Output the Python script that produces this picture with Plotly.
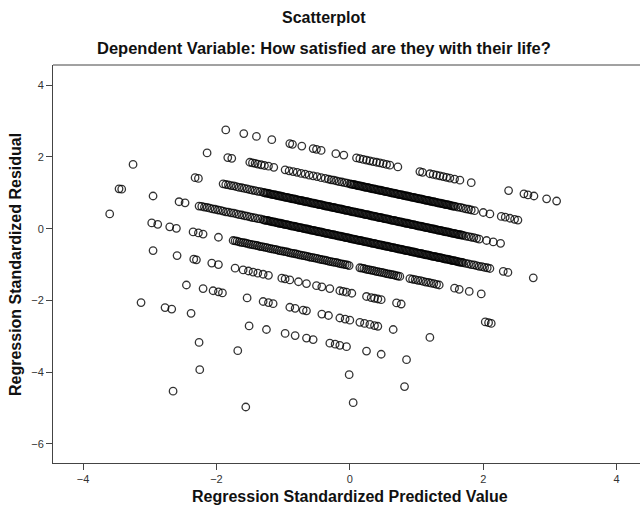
import plotly.graph_objects as go

# Standardized predicted value / standardized residual pairs, grouped by the
# life-satisfaction rating that produced each diagonal band of residuals.
pred_r10 = [-1.86, -1.59, -1.40, -1.17, -0.90, -0.86, -0.72, -0.55, -0.50, -0.43, -0.21, -0.09,
            0.10, 0.15, 0.20, 0.25, 0.30, 0.35, 0.40, 0.45, 0.50, 0.55, 0.60, 0.72, 1.05, 1.09,
            1.20, 1.25, 1.30, 1.35, 1.40, 1.45, 1.50, 1.57, 1.65, 1.82, 2.38, 2.61, 2.67, 2.76,
            2.95, 3.10]
resid_r10 = [2.75, 2.65, 2.57, 2.48, 2.37, 2.35, 2.30, 2.23, 2.21, 2.18, 2.09, 2.05,
             1.97, 1.95, 1.93, 1.91, 1.89, 1.87, 1.85, 1.83, 1.81, 1.79, 1.77, 1.72, 1.59, 1.57,
             1.53, 1.51, 1.49, 1.47, 1.45, 1.43, 1.41, 1.38, 1.35, 1.28, 1.06, 0.97, 0.94, 0.91,
             0.83, 0.77]

pred_r9 = [-2.14, -1.83, -1.77, -1.50, -1.46, -1.42, -1.38, -1.33, -1.28, -1.22, -1.14,
           -0.97, -0.91, -0.85, -0.79, -0.73, -0.67, -0.61, -0.55, -0.49, -0.43, -0.37,
           -0.32, -0.28, -0.24, -0.20, -0.16, -0.12, -0.08, -0.04,
           0.00, 0.02, 0.04, 0.06, 0.08, 0.10, 0.12, 0.14, 0.16, 0.18,
           0.20, 0.22, 0.24, 0.26, 0.28, 0.30, 0.32, 0.34, 0.36, 0.38,
           0.40, 0.42, 0.44, 0.46, 0.48, 0.50, 0.52, 0.54, 0.56, 0.58,
           0.60, 0.62, 0.64, 0.66, 0.68, 0.70, 0.72, 0.74, 0.76, 0.78,
           0.80, 0.82, 0.84, 0.86, 0.88, 0.90, 0.92, 0.94, 0.96, 0.98,
           1.00, 1.02, 1.04, 1.06, 1.08, 1.10, 1.12, 1.14, 1.16, 1.18,
           1.20, 1.22, 1.24, 1.26, 1.28, 1.30, 1.32, 1.34, 1.36, 1.38,
           1.40, 1.42, 1.44, 1.46, 1.48, 1.50, 1.52, 1.54, 1.56, 1.58,
           1.62, 1.66, 1.70, 1.74, 1.78, 1.82, 1.87, 2.00, 2.10, 2.27, 2.33, 2.40, 2.47, 2.52]
resid_r9 = [2.11, 1.98, 1.96, 1.85, 1.83, 1.82, 1.80, 1.78, 1.76, 1.74, 1.71,
            1.64, 1.61, 1.59, 1.57, 1.54, 1.52, 1.49, 1.47, 1.45, 1.42, 1.40,
            1.38, 1.36, 1.35, 1.33, 1.31, 1.30, 1.28, 1.27,
            1.25, 1.24, 1.23, 1.23, 1.22, 1.21, 1.20, 1.19, 1.19, 1.18,
            1.17, 1.16, 1.15, 1.15, 1.14, 1.13, 1.12, 1.11, 1.11, 1.10,
            1.09, 1.08, 1.07, 1.07, 1.06, 1.05, 1.04, 1.03, 1.03, 1.02,
            1.01, 1.00, 0.99, 0.99, 0.98, 0.97, 0.96, 0.95, 0.95, 0.94,
            0.93, 0.92, 0.91, 0.91, 0.90, 0.89, 0.88, 0.87, 0.87, 0.86,
            0.85, 0.84, 0.83, 0.83, 0.82, 0.81, 0.80, 0.79, 0.79, 0.78,
            0.77, 0.76, 0.75, 0.75, 0.74, 0.73, 0.72, 0.71, 0.71, 0.70,
            0.69, 0.68, 0.67, 0.67, 0.66, 0.65, 0.64, 0.63, 0.63, 0.62,
            0.60, 0.59, 0.57, 0.55, 0.54, 0.52, 0.50, 0.45, 0.41, 0.34, 0.32, 0.29, 0.26, 0.24]

pred_r8 = [-3.25, -2.32, -2.27,
           -1.90, -1.86, -1.82, -1.78, -1.74, -1.70, -1.66, -1.62, -1.58, -1.54, -1.50, -1.46,
           -1.42, -1.38, -1.34,
           -1.30, -1.28, -1.26, -1.24, -1.22, -1.20, -1.18, -1.16, -1.14, -1.12,
           -1.10, -1.08, -1.06, -1.04, -1.02, -1.00, -0.98, -0.96, -0.94, -0.92,
           -0.90, -0.88, -0.86, -0.84, -0.82, -0.80, -0.78, -0.76, -0.74, -0.72,
           -0.70, -0.68, -0.66, -0.64, -0.62, -0.60, -0.58, -0.56, -0.54, -0.52,
           -0.50, -0.48, -0.46, -0.44, -0.42, -0.40, -0.38, -0.36, -0.34, -0.32,
           -0.30, -0.28, -0.26, -0.24, -0.22, -0.20, -0.18, -0.16, -0.14, -0.12,
           -0.10, -0.08, -0.06, -0.04, -0.02, 0.00, 0.02, 0.04, 0.06, 0.08,
           0.10, 0.12, 0.14, 0.16, 0.18, 0.20, 0.22, 0.24, 0.26, 0.28,
           0.30, 0.32, 0.34, 0.36, 0.38, 0.40, 0.42, 0.44, 0.46, 0.48,
           0.50, 0.52, 0.54, 0.56, 0.58, 0.60, 0.62, 0.64, 0.66, 0.68,
           0.70, 0.72, 0.74, 0.76, 0.78, 0.80, 0.82, 0.84, 0.86, 0.88,
           0.90, 0.92, 0.94, 0.96, 0.98, 1.00, 1.02, 1.04, 1.06, 1.08,
           1.10, 1.12, 1.14, 1.16, 1.18, 1.20, 1.22, 1.24, 1.26, 1.28,
           1.30, 1.32, 1.34, 1.36, 1.38, 1.40, 1.42, 1.44, 1.46, 1.48,
           1.50, 1.52, 1.54, 1.56, 1.58, 1.60, 1.62, 1.64, 1.66, 1.68,
           1.70, 1.74, 1.78, 1.82, 1.86, 1.90, 1.94, 2.05, 2.15, 2.26]
resid_r8 = [1.79, 1.42, 1.40,
            1.25, 1.23, 1.22, 1.20, 1.19, 1.17, 1.15, 1.14, 1.12, 1.11, 1.09, 1.07,
            1.06, 1.04, 1.03,
            1.01, 1.00, 0.99, 0.99, 0.98, 0.97, 0.96, 0.95, 0.95, 0.94,
            0.93, 0.92, 0.91, 0.91, 0.90, 0.89, 0.88, 0.87, 0.87, 0.86,
            0.85, 0.84, 0.83, 0.83, 0.82, 0.81, 0.80, 0.79, 0.79, 0.78,
            0.77, 0.76, 0.75, 0.75, 0.74, 0.73, 0.72, 0.71, 0.71, 0.70,
            0.69, 0.68, 0.67, 0.67, 0.66, 0.65, 0.64, 0.63, 0.63, 0.62,
            0.61, 0.60, 0.59, 0.59, 0.58, 0.57, 0.56, 0.55, 0.55, 0.54,
            0.53, 0.52, 0.51, 0.51, 0.50, 0.49, 0.48, 0.47, 0.47, 0.46,
            0.45, 0.44, 0.43, 0.43, 0.42, 0.41, 0.40, 0.39, 0.39, 0.38,
            0.37, 0.36, 0.35, 0.35, 0.34, 0.33, 0.32, 0.31, 0.31, 0.30,
            0.29, 0.28, 0.27, 0.27, 0.26, 0.25, 0.24, 0.23, 0.23, 0.22,
            0.21, 0.20, 0.19, 0.19, 0.18, 0.17, 0.16, 0.15, 0.15, 0.14,
            0.13, 0.12, 0.11, 0.11, 0.10, 0.09, 0.08, 0.07, 0.07, 0.06,
            0.05, 0.04, 0.03, 0.03, 0.02, 0.01, 0.00, -0.01, -0.01, -0.02,
            -0.03, -0.04, -0.05, -0.05, -0.06, -0.07, -0.08, -0.09, -0.09, -0.10,
            -0.11, -0.12, -0.13, -0.13, -0.14, -0.15, -0.16, -0.17, -0.17, -0.18,
            -0.19, -0.21, -0.22, -0.24, -0.25, -0.27, -0.29, -0.33, -0.37, -0.41]

pred_r7 = [-3.46, -3.42, -2.95, -2.56, -2.47,
           -2.26, -2.22, -2.18, -2.14, -2.10, -2.06, -2.02, -1.98, -1.94,
           -1.90, -1.86, -1.82, -1.78, -1.74, -1.70, -1.66, -1.62, -1.58, -1.54, -1.50, -1.46,
           -1.42, -1.38, -1.34,
           -1.30, -1.28, -1.26, -1.24, -1.22, -1.20, -1.18, -1.16, -1.14, -1.12,
           -1.10, -1.08, -1.06, -1.04, -1.02, -1.00, -0.98, -0.96, -0.94, -0.92,
           -0.90, -0.88, -0.86, -0.84, -0.82, -0.80, -0.78, -0.76, -0.74, -0.72,
           -0.70, -0.68, -0.66, -0.64, -0.62, -0.60, -0.58, -0.56, -0.54, -0.52,
           -0.50, -0.48, -0.46, -0.44, -0.42, -0.40, -0.38, -0.36, -0.34, -0.32,
           -0.30, -0.28, -0.26, -0.24, -0.22, -0.20, -0.18, -0.16, -0.14, -0.12,
           -0.10, -0.08, -0.06, -0.04, -0.02, 0.00, 0.02, 0.04, 0.06, 0.08,
           0.10, 0.12, 0.14, 0.16, 0.18, 0.20, 0.22, 0.24, 0.26, 0.28,
           0.30, 0.32, 0.34, 0.36, 0.38, 0.40, 0.42, 0.44, 0.46, 0.48,
           0.50, 0.52, 0.54, 0.56, 0.58, 0.60, 0.62, 0.64, 0.66, 0.68,
           0.70, 0.72, 0.74, 0.76, 0.78, 0.80, 0.82, 0.84, 0.86, 0.88,
           0.90, 0.92, 0.94, 0.96, 0.98, 1.00, 1.02, 1.04, 1.06, 1.08,
           1.10, 1.12, 1.14, 1.16, 1.18, 1.20, 1.22, 1.24, 1.26, 1.28,
           1.30, 1.32, 1.34, 1.36, 1.38, 1.40, 1.42, 1.44, 1.46, 1.48,
           1.50, 1.52, 1.54, 1.56, 1.58, 1.60, 1.62, 1.64, 1.66, 1.68,
           1.70, 1.74, 1.78, 1.82, 1.86, 1.90, 1.94, 1.98, 2.02, 2.06, 2.10,
           2.30, 2.37, 2.75]
resid_r7 = [1.11, 1.10, 0.91, 0.75, 0.72,
            0.63, 0.62, 0.60, 0.59, 0.57, 0.55, 0.54, 0.52, 0.51,
            0.49, 0.47, 0.46, 0.44, 0.43, 0.41, 0.39, 0.38, 0.36, 0.35, 0.33, 0.31,
            0.30, 0.28, 0.27,
            0.25, 0.24, 0.23, 0.23, 0.22, 0.21, 0.20, 0.19, 0.19, 0.18,
            0.17, 0.16, 0.15, 0.15, 0.14, 0.13, 0.12, 0.11, 0.11, 0.10,
            0.09, 0.08, 0.07, 0.07, 0.06, 0.05, 0.04, 0.03, 0.03, 0.02,
            0.01, 0.00, -0.01, -0.01, -0.02, -0.03, -0.04, -0.05, -0.05, -0.06,
            -0.07, -0.08, -0.09, -0.09, -0.10, -0.11, -0.12, -0.13, -0.13, -0.14,
            -0.15, -0.16, -0.17, -0.17, -0.18, -0.19, -0.20, -0.21, -0.21, -0.22,
            -0.23, -0.24, -0.25, -0.25, -0.26, -0.27, -0.28, -0.29, -0.29, -0.30,
            -0.31, -0.32, -0.33, -0.33, -0.34, -0.35, -0.36, -0.37, -0.37, -0.38,
            -0.39, -0.40, -0.41, -0.41, -0.42, -0.43, -0.44, -0.45, -0.45, -0.46,
            -0.47, -0.48, -0.49, -0.49, -0.50, -0.51, -0.52, -0.53, -0.53, -0.54,
            -0.55, -0.56, -0.57, -0.57, -0.58, -0.59, -0.60, -0.61, -0.61, -0.62,
            -0.63, -0.64, -0.65, -0.65, -0.66, -0.67, -0.68, -0.69, -0.69, -0.70,
            -0.71, -0.72, -0.73, -0.73, -0.74, -0.75, -0.76, -0.77, -0.77, -0.78,
            -0.79, -0.80, -0.81, -0.81, -0.82, -0.83, -0.84, -0.85, -0.85, -0.86,
            -0.87, -0.88, -0.89, -0.89, -0.90, -0.91, -0.92, -0.93, -0.93, -0.94,
            -0.95, -0.97, -0.98, -1.00, -1.01, -1.03, -1.05, -1.06, -1.08, -1.09, -1.11,
            -1.19, -1.22, -1.37]

pred_r6 = [-3.60, -2.97, -2.88, -2.70, -2.60, -2.35, -2.27, -2.20, -1.97,
           -1.75, -1.72, -1.69, -1.66, -1.63, -1.60, -1.57, -1.54, -1.51, -1.48,
           -1.45, -1.42, -1.39, -1.36, -1.33, -1.30, -1.27, -1.24, -1.21, -1.18,
           -1.15, -1.12, -1.09, -1.06, -1.03, -1.00, -0.97, -0.94, -0.91, -0.88,
           -0.85, -0.82, -0.79, -0.76, -0.73, -0.70, -0.67, -0.64, -0.61, -0.58,
           -0.55, -0.52, -0.49, -0.46, -0.43, -0.40, -0.37, -0.34, -0.31, -0.28,
           -0.25, -0.22, -0.19, -0.16, -0.13, -0.10, -0.07, -0.04, -0.01,
           0.15, 0.18, 0.21, 0.24, 0.27, 0.30, 0.33, 0.36, 0.39, 0.42, 0.45, 0.48,
           0.51, 0.54, 0.57, 0.60, 0.63, 0.66, 0.69, 0.72, 0.75,
           0.90, 0.94, 0.98, 1.02, 1.06, 1.10, 1.14, 1.18, 1.22, 1.26, 1.30, 1.34,
           1.57, 1.64, 1.79, 1.97]
resid_r6 = [0.41, 0.16, 0.12, 0.05, 0.01, -0.09, -0.12, -0.15, -0.24,
            -0.33, -0.34, -0.35, -0.37, -0.38, -0.39, -0.40, -0.41, -0.43, -0.44,
            -0.45, -0.46, -0.47, -0.49, -0.50, -0.51, -0.52, -0.53, -0.55, -0.56,
            -0.57, -0.58, -0.59, -0.61, -0.62, -0.63, -0.64, -0.65, -0.67, -0.68,
            -0.69, -0.70, -0.71, -0.73, -0.74, -0.75, -0.76, -0.77, -0.79, -0.80,
            -0.81, -0.82, -0.83, -0.85, -0.86, -0.87, -0.88, -0.89, -0.91, -0.92,
            -0.93, -0.94, -0.95, -0.97, -0.98, -0.99, -1.00, -1.01, -1.03,
            -1.09, -1.10, -1.11, -1.13, -1.14, -1.15, -1.16, -1.17, -1.19, -1.20, -1.21, -1.22,
            -1.23, -1.25, -1.26, -1.27, -1.28, -1.29, -1.31, -1.32, -1.33,
            -1.39, -1.41, -1.42, -1.44, -1.45, -1.47, -1.49, -1.50, -1.52, -1.53, -1.55, -1.57,
            -1.66, -1.69, -1.75, -1.82]

pred_r5 = [-2.95, -2.59, -2.34, -2.30, -2.07, -1.97, -1.72, -1.60, -1.52, -1.45, -1.38, -1.30,
           -1.22, -1.02, -0.97, -0.90, -0.77, -0.65, -0.50, -0.42, -0.30, -0.15, -0.10, -0.05,
           0.03, 0.25, 0.32, 0.37, 0.42, 0.47, 0.70, 0.77, 2.03, 2.08, 2.12]
resid_r5 = [-0.61, -0.75, -0.85, -0.87, -0.96, -1.00, -1.10, -1.15, -1.18, -1.21, -1.24, -1.27,
            -1.30, -1.38, -1.40, -1.43, -1.48, -1.53, -1.59, -1.62, -1.67, -1.73, -1.75, -1.77,
            -1.80, -1.89, -1.92, -1.94, -1.96, -1.98, -2.07, -2.10, -2.60, -2.62, -2.64]

pred_r4 = [-2.45, -2.20, -2.05, -1.97, -1.91, -1.54, -1.30, -1.22, -1.15, -0.90, -0.82, -0.70,
           -0.65, -0.42, -0.32, -0.15, -0.07, 0.00, 0.15, 0.22, 0.30, 0.37, 0.42, 0.65, 1.20]
resid_r4 = [-1.57, -1.67, -1.73, -1.76, -1.79, -1.93, -2.03, -2.06, -2.09, -2.19, -2.22, -2.27,
            -2.29, -2.38, -2.42, -2.49, -2.52, -2.55, -2.61, -2.64, -2.67, -2.70, -2.72, -2.81, -3.03]

pred_r3 = [-3.13, -2.77, -2.67, -2.38, -1.51, -1.25, -0.97, -0.82, -0.65, -0.55, -0.30, -0.22,
           -0.15, -0.05, 0.25, 0.47, 0.85]
resid_r3 = [-2.06, -2.20, -2.24, -2.36, -2.71, -2.81, -2.92, -2.98, -3.05, -3.09, -3.19, -3.22,
            -3.25, -3.29, -3.41, -3.50, -3.65]

pred_r2 = [-2.26, -1.68, -0.01, 0.82]
resid_r2 = [-3.17, -3.40, -4.07, -4.40]

pred_r1 = [-2.25, 0.05]
resid_r1 = [-3.93, -4.85]

pred_r0 = [-2.65, -1.56]
resid_r0 = [-4.53, -4.97]

x_ticks = [-4, -2, 0, 2, 4]
y_ticks = [4, 2, 0, -2, -4, -6]

title_text = "Scatterplot"
subtitle_text = "Dependent Variable: How satisfied are they with their life?"
x_title = "Regression Standardized Predicted Value"
y_title = "Regression Standardized Residual"

pred = (pred_r10 + pred_r9 + pred_r8 + pred_r7 + pred_r6 + pred_r5 + pred_r4 + pred_r3
        + pred_r2 + pred_r1 + pred_r0)
resid = (resid_r10 + resid_r9 + resid_r8 + resid_r7 + resid_r6 + resid_r5 + resid_r4 + resid_r3
         + resid_r2 + resid_r1 + resid_r0)

FONT = "Liberation Sans, Arial, sans-serif"
INK = "#111111"

fig = go.Figure()
fig.add_trace(go.Scatter(
    x=pred, y=resid, mode="markers",
    marker=dict(symbol="circle-open", size=7.5, color="rgba(0,0,0,0.8)",
                line=dict(width=1.3)),
    hoverinfo="skip", showlegend=False,
))

axis_common = dict(
    showgrid=False, zeroline=False, showline=True, linecolor="#444", linewidth=1,
    ticks="outside", ticklen=6, tickcolor="#444", tickwidth=1,
    tickfont=dict(family=FONT, size=11, color="#333"),
)
fig.update_xaxes(range=[-4.45, 4.35], tickvals=x_ticks, **axis_common)
fig.update_yaxes(range=[-6.53, 4.56], tickvals=y_ticks, **axis_common)

# top border of the plot frame
fig.add_shape(type="line", xref="paper", yref="paper", x0=0, x1=1, y0=1, y1=1,
              line=dict(color="#444", width=1))

head = dict(family=FONT, size=16, color=INK, weight="bold")
sub_head = dict(family=FONT, size=16.5, color=INK, weight="bold")
axis_head = dict(family=FONT, size=16, color=INK, weight="bold")
fig.add_annotation(text=title_text, xref="paper", yref="paper", x=0.4617, y=1.1206,
                   showarrow=False, font=head, xanchor="center", yanchor="middle")
fig.add_annotation(text=subtitle_text, xref="paper", yref="paper", x=0.4617, y=1.0427,
                   showarrow=False, font=sub_head, xanchor="center", yanchor="middle")
fig.add_annotation(text=x_title, xref="paper", yref="paper", x=0.506, y=-0.0854,
                   showarrow=False, font=axis_head, xanchor="center", yanchor="middle")
fig.add_annotation(text=y_title, xref="paper", yref="paper", x=-0.063, y=0.4975,
                   showarrow=False, font=axis_head, textangle=-90,
                   xanchor="center", yanchor="middle")

fig.update_layout(
    width=640, height=511,
    margin=dict(l=53, r=0, t=65, b=48),
    paper_bgcolor="white", plot_bgcolor="white",
    font=dict(family=FONT),
)

fig.write_html("out.html")
